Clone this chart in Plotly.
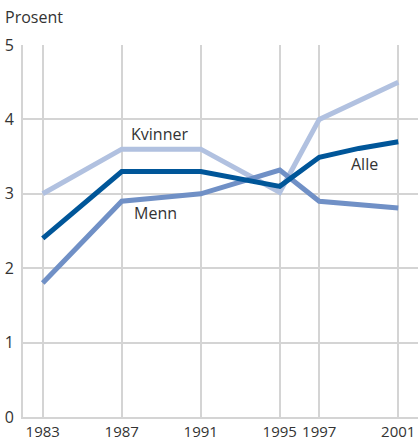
import plotly.graph_objects as go

tick_years = [1983, 1987, 1991, 1995, 1997, 2001]
tick_labels = ["1983", "1987", "1991", "1995", "1997", "2001"]

kvinner_years = [1983, 1987, 1991, 1995, 1997, 2001]
kvinner = [3.0, 3.6, 3.6, 3.02, 4.0, 4.5]

alle_years = [1983, 1987, 1989, 1991, 1995, 1997, 1999, 2001]
alle = [2.4, 3.3, 3.3, 3.3, 3.1, 3.49, 3.61, 3.7]

menn_years = [1983, 1987, 1989, 1991, 1995, 1997, 2001]
menn = [1.8, 2.9, 2.95, 3.0, 3.32, 2.9, 2.81]

C_KV = "#b1c1e0"
C_ALLE = "#005699"
C_MENN = "#7090c6"

fig = go.Figure()
fig.add_trace(go.Scatter(x=kvinner_years, y=kvinner, mode="lines",
                         line=dict(color=C_KV, width=5), name="Kvinner"))
fig.add_trace(go.Scatter(x=menn_years, y=menn, mode="lines",
                         line=dict(color=C_MENN, width=5), name="Menn"))
fig.add_trace(go.Scatter(x=alle_years, y=alle, mode="lines",
                         line=dict(color=C_ALLE, width=5), name="Alle"))

txt = dict(family="Open Sans, sans-serif", size=16, color="#333333")
fig.add_annotation(x=1988.9, y=3.8, text="Kvinner", showarrow=False, font=txt)
fig.add_annotation(x=1988.7, y=2.74, text="Menn", showarrow=False, font=txt)
fig.add_annotation(x=1999.3, y=3.4, text="Alle", showarrow=False, font=txt)
fig.add_annotation(xref="paper", yref="paper", x=-0.05, y=1.075,
                   xanchor="left", yanchor="middle",
                   text="Prosent", showarrow=False, font=txt)

fig.update_layout(
    width=418, height=441,
    margin=dict(l=23, r=0, t=45, b=24),
    paper_bgcolor="white", plot_bgcolor="white",
    showlegend=False,
    font=dict(family="Open Sans, sans-serif", size=16, color="#333333"),
    xaxis=dict(range=[1982, 2002], tickvals=tick_years, ticktext=tick_labels,
               tickfont=dict(size=15),
               showgrid=True, gridcolor="#d4d4d4", gridwidth=2,
               showline=True, linecolor="#d4d4d4", linewidth=2,
               zeroline=False, ticks="", fixedrange=True,
               automargin=False, ticklabelstandoff=0),
    yaxis=dict(range=[0, 5], tickvals=[0, 1, 2, 3, 4, 5],
               showgrid=True, gridcolor="#d4d4d4", gridwidth=2,
               showline=True, linecolor="#d4d4d4", linewidth=2,
               zeroline=False, ticks="", fixedrange=True,
               automargin=False, ticklabelstandoff=4),
)

fig.write_html("out.html", config={"displayModeBar": False},
               post_script="document.body.style.margin='0';document.body.style.padding='0';")
